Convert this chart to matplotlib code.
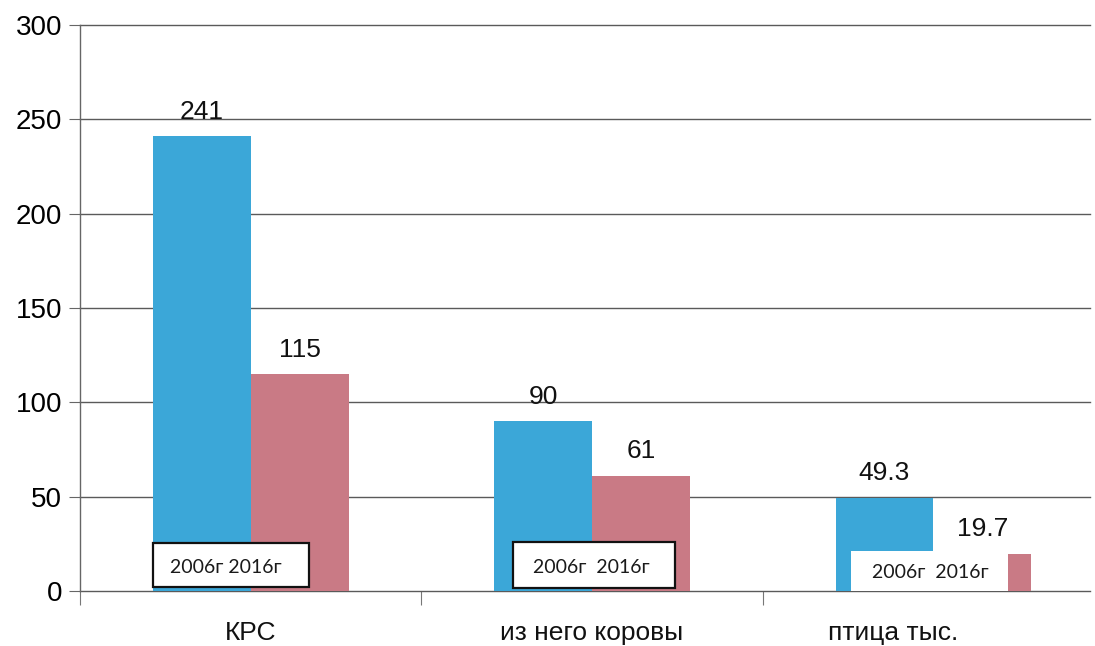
import matplotlib
matplotlib.use("Agg")
import matplotlib.pyplot as plt
from matplotlib.patches import Rectangle
import matplotlib.transforms as mtransforms
import numpy as np

categories = ["КРС", "из него коровы", "птица тыс."]
values_2006 = [241, 90, 49.3]
values_2016 = [115, 61, 19.7]
labels_2006 = ["241", "90", "49.3"]
labels_2016 = ["115", "61", "19.7"]
year_labels = ["2006г", "2016г"]
yticks = [0, 50, 100, 150, 200, 250, 300]

blue = "#3ba7d8"
pink = "#c97a85"
num_font = "Liberation Sans"

fig = plt.figure(figsize=(10.95, 6.46), dpi=100)
ax = fig.add_axes([0.0731, 0.0851, 0.9224, 0.8762])

x = np.arange(len(categories))
w = 0.2865
ax.bar(x - w / 2, values_2006, width=w, color=blue, zorder=2)
ax.bar(x + w / 2, values_2016, width=w, color=pink, zorder=2)

ax.set_xlim(-0.497, 2.459)
ax.set_ylim(0, 300)
ax.set_yticks(yticks)
ax.yaxis.grid(True, color="#5a5a5a", linewidth=1.0, zorder=0)
for gl in ax.yaxis.get_gridlines():
    gl.set_clip_on(False)
ax.set_axisbelow(True)
for s in ["top", "right", "bottom"]:
    ax.spines[s].set_visible(False)
ax.spines["left"].set_color("#666666")
ax.spines["left"].set_linewidth(1.0)
ax.tick_params(axis="y", length=8, color="#666666", labelsize=20, pad=5)
for t in ax.get_yticklabels():
    t.set_fontfamily(num_font)

ax.set_xticks([-0.5, 0.5, 1.5])
ax.set_xticklabels([])
ax.tick_params(axis="x", length=10, color="#777777", width=0.8)

# value labels
for i in range(len(categories)):
    ax.text(x[i] - w / 2, values_2006[i] + 13, labels_2006[i], ha="center", va="center",
            fontsize=19, family=num_font, color="#111111", zorder=4)
    ax.text(x[i] + w / 2, values_2016[i] + 13, labels_2016[i], ha="center", va="center",
            fontsize=19, family=num_font, color="#111111", zorder=4)

# category labels
trans = mtransforms.blended_transform_factory(ax.transData, ax.transAxes)
cat_x = [0, 1, 1.883]
for cx, c in zip(cat_x, categories):
    ax.text(cx, -0.074, c, transform=trans, ha="center", va="center", fontsize=19,
            family=num_font, color="#111111")

# year boxes
ax.add_patch(Rectangle((-0.2865, 2.1), 0.4561, 23.3, facecolor="white", edgecolor="#111111",
                       linewidth=1.6, zorder=5))
ax.text(-0.073, 12.5, year_labels[0] + " " + year_labels[1], ha="center", va="center",
        fontsize=14, family="Lato", color="#1a1a1a", zorder=6)
ax.add_patch(Rectangle((0.769, 1.6), 0.474, 24.4, facecolor="white", edgecolor="#111111",
                       linewidth=1.6, zorder=5))
ax.text(0.997, 12.5, year_labels[0] + "  " + year_labels[1], ha="center", va="center",
        fontsize=14, family="Lato", color="#1a1a1a", zorder=6)
ax.add_patch(Rectangle((1.760, 0.0), 0.459, 21.0, facecolor="white", edgecolor="none",
                       linewidth=0, zorder=5))
ax.text(1.991, 10.0, year_labels[0] + "  " + year_labels[1], ha="center", va="center",
        fontsize=14, family="Lato", color="#1a1a1a", zorder=6)

fig.savefig("out.png", dpi=100)
